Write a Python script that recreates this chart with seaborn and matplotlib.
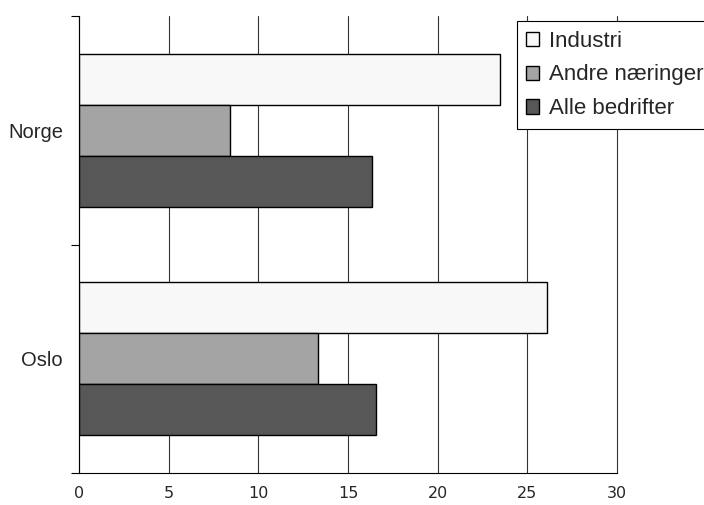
import matplotlib
matplotlib.use("Agg")
import matplotlib.pyplot as plt
import seaborn as sns
import pandas as pd

# data
regions = ["Norge", "Oslo"]
series = ["Industri", "Andre næringer", "Alle bedrifter"]
industri = [23.5, 26.1]
andre = [8.4, 13.3]
alle = [16.35, 16.55]
colors = ["#f8f8f8", "#a4a4a4", "#575757"]
x_ticks = [0, 5, 10, 15, 20, 25, 30]

sns.set_theme(style="white")
plt.rcParams["font.family"] = ["Liberation Sans", "DejaVu Sans"]

rows = []
for name, vals in zip(series, [industri, andre, alle]):
    for reg, v in zip(regions, vals):
        rows.append({"region": reg, "series": name, "value": v})
df = pd.DataFrame(rows)

fig = plt.figure(figsize=(7.04, 5.05), dpi=100)
ax = fig.add_axes([0.1122, 0.0633, 0.7642, 0.9050])

sns.barplot(data=df, y="region", x="value", hue="series", orient="h",
            order=regions, hue_order=series, palette=colors,
            edgecolor="black", linewidth=1.0, width=0.67, saturation=1,
            ax=ax)

ax.set_xlim(0, 30)
ax.set_ylim(1.5, -0.5)
ax.set_xticks(x_ticks)
ax.set_xticklabels([str(t) for t in x_ticks], family="DejaVu Sans", fontsize=11.5)
ax.xaxis.grid(True, color="#333333", linewidth=0.8)
for gl in ax.get_xgridlines():
    gl.set_clip_on(False)
ax.set_axisbelow(True)
ax.tick_params(axis="x", length=0, pad=9)

ax.set_yticks([0, 1])
ax.set_yticklabels(regions, fontsize=14.5)
ax.set_yticks([-0.5, 0.5, 1.5], minor=True)
ax.tick_params(axis="y", which="major", length=0, pad=11.5)
ax.tick_params(axis="y", which="minor", length=6, width=0.8, color="black", left=True)
ax.set_xlabel("")
ax.set_ylabel("")

for side in ["top", "right"]:
    ax.spines[side].set_visible(False)
for side in ["left", "bottom"]:
    ax.spines[side].set_color("black")
    ax.spines[side].set_linewidth(0.8)

# legend runs past the right edge like in the original
handles, labels = ax.get_legend_handles_labels()
leg = ax.legend(handles, labels, loc="upper left",
                bbox_to_anchor=(0.734, 0.958, 0.30, 0), mode="expand",
                bbox_transform=fig.transFigure, borderaxespad=0, fontsize=16,
                handlelength=0.6, handleheight=0.6, handletextpad=0.45,
                labelspacing=0.58, borderpad=0.42, fancybox=False,
                frameon=True, framealpha=1)
leg.get_frame().set_edgecolor("black")
leg.get_frame().set_linewidth(0.8)

fig.savefig("out.png", dpi=100)
